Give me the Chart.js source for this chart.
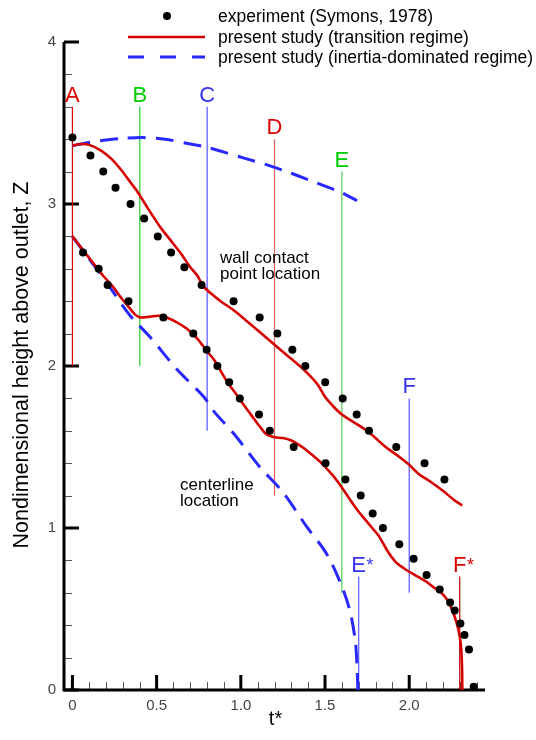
<!DOCTYPE html>
<html>
<head>
<meta charset="utf-8">
<script src="https://cdn.jsdelivr.net/npm/chart.js@4.4.1/dist/chart.umd.min.js"></script>
<style>
  html, body { margin: 0; padding: 0; background: #ffffff; }
  canvas { display: block; }
</style>
</head>
<body>
<canvas id="c" width="536" height="740"></canvas>
<script>
// Experiment (Symons, 1978): wall contact point
const expWallT = [0, 0.107, 0.183, 0.256, 0.345, 0.426, 0.507, 0.586, 0.665, 0.767, 0.957, 1.112, 1.217, 1.306, 1.383, 1.501, 1.605, 1.688, 1.761, 1.923, 2.091, 2.209];
const expWallZ = [3.41, 3.30, 3.20, 3.10, 3.00, 2.91, 2.80, 2.70, 2.61, 2.50, 2.40, 2.30, 2.20, 2.10, 2.00, 1.90, 1.80, 1.70, 1.60, 1.50, 1.40, 1.30];
// Experiment (Symons, 1978): centerline
const expCenterT = [0.063, 0.156, 0.209, 0.333, 0.540, 0.718, 0.797, 0.861, 0.931, 0.994, 1.108, 1.172, 1.314, 1.503, 1.621, 1.712, 1.783, 1.844, 1.941, 2.026, 2.103, 2.181, 2.243, 2.270, 2.304, 2.328, 2.355, 2.383];
const expCenterZ = [2.70, 2.60, 2.50, 2.40, 2.30, 2.20, 2.10, 2.00, 1.90, 1.80, 1.70, 1.60, 1.50, 1.40, 1.30, 1.20, 1.09, 1.00, 0.90, 0.81, 0.71, 0.62, 0.54, 0.49, 0.41, 0.34, 0.25, 0.02];

// Present study, transition regime
const transWallT = [0, 0.05, 0.10, 0.17, 0.23, 0.29, 0.34, 0.39, 0.45, 0.52, 0.58, 0.64, 0.70, 0.74, 0.78, 0.82, 0.88, 0.95, 1.01, 1.10, 1.19, 1.27, 1.35, 1.42, 1.46, 1.50, 1.55, 1.60, 1.66, 1.75, 1.86, 1.94, 2.00, 2.06, 2.12, 2.20, 2.27, 2.315];
const transWallZ = [3.36, 3.37, 3.365, 3.33, 3.28, 3.21, 3.14, 3.07, 2.97, 2.86, 2.78, 2.70, 2.61, 2.56, 2.49, 2.45, 2.40, 2.35, 2.30, 2.22, 2.14, 2.07, 2.00, 1.93, 1.88, 1.81, 1.75, 1.70, 1.66, 1.60, 1.50, 1.44, 1.39, 1.33, 1.29, 1.23, 1.17, 1.14];
const transCenterT = [0, 0.06, 0.12, 0.18, 0.24, 0.29, 0.33, 0.37, 0.40, 0.46, 0.52, 0.57, 0.62, 0.68, 0.74, 0.80, 0.84, 0.88, 0.92, 0.97, 1.01, 1.06, 1.11, 1.15, 1.20, 1.25, 1.30, 1.35, 1.39, 1.47, 1.55, 1.60, 1.665, 1.70, 1.74, 1.78, 1.82, 1.87, 1.92, 1.97, 2.00, 2.05, 2.10, 2.15, 2.19, 2.23, 2.26, 2.28, 2.30, 2.31, 2.314, 2.315];
const transCenterZ = [2.80, 2.72, 2.64, 2.56, 2.49, 2.42, 2.37, 2.32, 2.30, 2.305, 2.31, 2.295, 2.27, 2.23, 2.17, 2.09, 2.04, 1.97, 1.90, 1.83, 1.77, 1.70, 1.63, 1.58, 1.56, 1.555, 1.54, 1.51, 1.48, 1.41, 1.32, 1.25, 1.15, 1.10, 1.05, 1.00, 0.95, 0.86, 0.79, 0.75, 0.73, 0.70, 0.67, 0.63, 0.60, 0.55, 0.48, 0.42, 0.33, 0.23, 0.12, 0];

// Present study, inertia-dominated regime
const inertWallT = [0, 0.10, 0.20, 0.30, 0.42, 0.55, 0.70, 0.80, 0.90, 1.03, 1.16, 1.30, 1.40, 1.50, 1.60, 1.69];
const inertWallZ = [3.36, 3.38, 3.395, 3.405, 3.41, 3.40, 3.37, 3.35, 3.32, 3.28, 3.24, 3.19, 3.15, 3.11, 3.07, 3.02];
const inertCenterT = [0, 0.10, 0.20, 0.30, 0.36, 0.46, 0.62, 0.78, 0.84, 0.96, 1.11, 1.25, 1.39, 1.51, 1.60, 1.65, 1.68, 1.69, 1.695];
const inertCenterZ = [2.80, 2.66, 2.52, 2.37, 2.29, 2.18, 1.98, 1.81, 1.72, 1.58, 1.38, 1.22, 1.01, 0.84, 0.64, 0.48, 0.30, 0.15, 0];

// Time markers: name, t*, lower and upper end of each vertical line
const markerNames = ['A', 'B', 'C', 'D', 'E', 'F', 'E*', 'F*'];
const markerT = [0, 0.4, 0.8, 1.2, 1.6, 2.0, 1.7, 2.3];
const markerFrom = [2.0, 2.0, 1.6, 1.2, 0.6, 0.6, 0, 0];
const markerTo = [3.6, 3.6, 3.6, 3.4, 3.2, 1.8, 0.7, 0.7];

// Axis ticks
const xMajorTicks = [0, 0.5, 1, 1.5, 2];
const xMinorTicks = [0.1, 0.2, 0.3, 0.4, 0.6, 0.7, 0.8, 0.9, 1.1, 1.2, 1.3, 1.4, 1.6, 1.7, 1.8, 1.9, 2.1, 2.2, 2.3, 2.4];
const yMajorTicks = [0, 1, 2, 3, 4];
const yMinorTicks = [0.2, 0.4, 0.6, 0.8, 1.2, 1.4, 1.6, 1.8, 2.2, 2.4, 2.6, 2.8, 3.2, 3.4, 3.6, 3.8];

const legendLabels = ['experiment (Symons, 1978)', 'present study (transition regime)', 'present study (inertia-dominated regime)'];
const xTitle = 't*';
const yTitle = 'Nondimensional height above outlet, Z';
const wallNote = ['wall contact', 'point location'];
const centerNote = ['centerline', 'location'];

// ---- styling ----
const FONT = '"Liberation Sans", Arial, Helvetica, sans-serif';
const RED = 'rgb(215,0,0)';
const BLUE = 'rgb(40,40,255)';
const markerColors = ['#e00000', '#22cc22', '#5555ff', '#e06060', '#55cc55', '#5555ff', '#5a5aff', '#b80000'];
const markerLabelColors = ['#dd0000', '#00cc00', '#3333ee', '#dd0000', '#00cc00', '#3333ee', '#3333ee', '#dd0000'];

const zip = (t, z) => t.map((v, i) => ({ x: v, y: z[i] }));

const datasets = [
  {
    label: legendLabels[0],
    data: zip(expWallT, expWallZ).concat(zip(expCenterT, expCenterZ)),
    showLine: false, pointRadius: 4, pointHoverRadius: 4,
    pointBackgroundColor: '#000', pointBorderColor: '#000', pointBorderWidth: 0,
    clip: false
  },
  {
    label: legendLabels[1], data: zip(transWallT, transWallZ),
    showLine: true, borderColor: RED, borderWidth: 2.6, pointRadius: 0, tension: 0.3
  },
  {
    label: legendLabels[1], data: zip(transCenterT, transCenterZ),
    showLine: true, borderColor: RED, borderWidth: 2.6, pointRadius: 0, tension: 0.3
  },
  {
    label: legendLabels[2], data: zip(inertWallT, inertWallZ),
    showLine: true, borderColor: BLUE, borderWidth: 3, borderDash: [18, 10], pointRadius: 0, tension: 0.3
  },
  {
    label: legendLabels[2], data: zip(inertCenterT, inertCenterZ),
    showLine: true, borderColor: BLUE, borderWidth: 3, borderDash: [18, 10], pointRadius: 0, tension: 0.3
  }
];

markerNames.forEach((name, i) => {
  datasets.push({
    label: name,
    data: [{ x: markerT[i], y: markerFrom[i] }, { x: markerT[i], y: markerTo[i] }],
    showLine: true, borderColor: markerColors[i], borderWidth: 1.2, pointRadius: 0
  });
});

const framePlugin = {
  id: 'frame',
  beforeDatasetsDraw(chart) {
    const { ctx, chartArea: a, scales: { x, y } } = chart;
    ctx.save();
    // minor ticks
    ctx.strokeStyle = '#555';
    ctx.lineWidth = 1;
    ctx.beginPath();
    yMinorTicks.forEach(v => {
      const p = Math.round(y.getPixelForValue(v)) + 0.5;
      ctx.moveTo(a.left, p); ctx.lineTo(a.left + 8, p);
    });
    xMinorTicks.forEach(v => {
      const p = Math.round(x.getPixelForValue(v)) + 0.5;
      ctx.moveTo(p, a.bottom); ctx.lineTo(p, a.bottom - 8);
    });
    ctx.stroke();
    // major ticks
    ctx.strokeStyle = '#000';
    ctx.lineWidth = 3;
    ctx.beginPath();
    yMajorTicks.forEach(v => {
      const p = y.getPixelForValue(v);
      ctx.moveTo(a.left, p); ctx.lineTo(a.left + 15, p);
    });
    xMajorTicks.forEach(v => {
      const p = x.getPixelForValue(v);
      ctx.moveTo(p, a.bottom); ctx.lineTo(p, a.bottom - 15);
    });
    ctx.stroke();
    // axis lines
    ctx.lineWidth = 3;
    ctx.beginPath();
    ctx.moveTo(a.left, a.top);
    ctx.lineTo(a.left, a.bottom);
    ctx.lineTo(a.right, a.bottom);
    ctx.stroke();
    ctx.restore();
  },
  afterDatasetsDraw(chart) {
    const { ctx, chartArea: a, scales: { x, y } } = chart;
    ctx.save();
    // marker letters
    markerNames.forEach((name, i) => {
      const px = x.getPixelForValue(markerT[i]);
      const py = y.getPixelForValue(markerTo[i]) - 5;
      const letter = name.charAt(0);
      ctx.fillStyle = markerLabelColors[i];
      ctx.font = '22px ' + FONT;
      ctx.textBaseline = 'alphabetic';
      ctx.textAlign = 'center';
      ctx.fillText(letter, px, py);
      if (name.length > 1) {
        const w = ctx.measureText(letter).width;
        ctx.font = '18px ' + FONT;
        ctx.textAlign = 'left';
        ctx.fillText(name.slice(1), px + w / 2 + 0.5, py - 1);
      }
    });

    // curve notes
    ctx.fillStyle = '#000';
    ctx.font = '17px ' + FONT;
    ctx.textAlign = 'left';
    ctx.textBaseline = 'middle';
    ctx.fillText(wallNote[0], 220, 258);
    ctx.fillText(wallNote[1], 220, 274);
    ctx.fillText(centerNote[0], 180, 485);
    ctx.fillText(centerNote[1], 180, 501);

    // legend
    const lx0 = 128, lx1 = 205, tx = 218;
    const rows = [16, 37, 57];
    ctx.fillStyle = '#000';
    ctx.beginPath();
    ctx.arc((lx0 + lx1) / 2 + 0.5, rows[0], 4, 0, Math.PI * 2);
    ctx.fill();
    ctx.strokeStyle = RED;
    ctx.lineWidth = 2.6;
    ctx.beginPath(); ctx.moveTo(lx0, rows[1]); ctx.lineTo(lx1, rows[1]); ctx.stroke();
    ctx.strokeStyle = BLUE;
    ctx.lineWidth = 3;
    ctx.setLineDash([16, 16]);
    ctx.beginPath(); ctx.moveTo(lx0, rows[2]); ctx.lineTo(lx1, rows[2]); ctx.stroke();
    ctx.setLineDash([]);
    ctx.fillStyle = '#000';
    ctx.font = '17.5px ' + FONT;
    ctx.textAlign = 'left';
    ctx.textBaseline = 'middle';
    legendLabels.forEach((t, i) => ctx.fillText(t, tx, rows[i] + 1));

    // axis titles
    ctx.font = '20px ' + FONT;
    ctx.textAlign = 'center';
    ctx.textBaseline = 'middle';
    ctx.fillText(xTitle, (a.left + a.right) / 2 + 1, 719);
    ctx.font = '21.5px ' + FONT;
    ctx.translate(22, 365);
    ctx.rotate(-Math.PI / 2);
    ctx.fillText(yTitle, 0, 0);
    ctx.restore();
  }
};

new Chart(document.getElementById('c'), {
  type: 'scatter',
  data: { datasets },
  options: {
    responsive: false,
    animation: false,
    events: [],
    layout: { padding: { top: 42, right: 51, left: 0, bottom: 0 } },
    plugins: { legend: { display: false }, tooltip: { enabled: false } },
    scales: {
      x: {
        type: 'linear', min: -0.05, max: 2.45,
        afterBuildTicks: s => { s.ticks = xMajorTicks.map(v => ({ value: v })); },
        afterFit: s => { s.height = 50; },
        grid: { display: false, drawTicks: false },
        border: { display: false },
        ticks: { padding: 7, maxRotation: 0, autoSkip: false, color: '#444', font: { family: FONT, size: 15 } }
      },
      y: {
        type: 'linear', min: 0, max: 4,
        afterBuildTicks: s => { s.ticks = yMajorTicks.map(v => ({ value: v })); },
        afterFit: s => { s.width = 64; },
        grid: { display: false, drawTicks: false },
        border: { display: false },
        ticks: { padding: 8, autoSkip: false, color: '#444', font: { family: FONT, size: 15 } }
      }
    }
  },
  plugins: [framePlugin]
});
</script>
</body>
</html>
